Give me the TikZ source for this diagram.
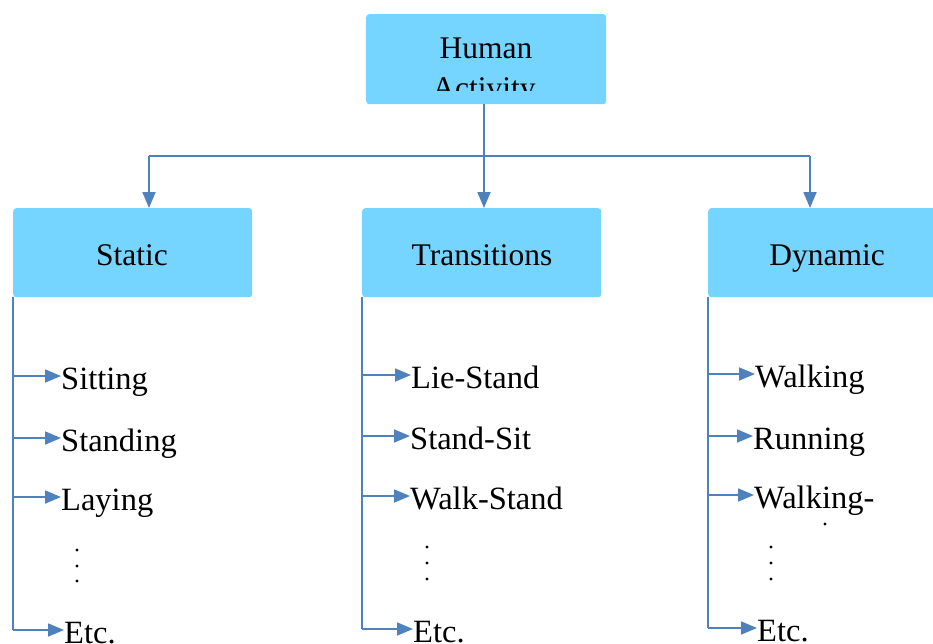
\documentclass[tikz,border=0pt]{standalone}
\usepackage{fontspec}
\setmainfont{Liberation Serif}
\usetikzlibrary{arrows.meta}
\definecolor{boxblue}{RGB}{118,213,255}
\definecolor{lineblue}{RGB}{79,129,189}
\begin{document}
\begin{tikzpicture}[x=1pt,y=-1pt,
  box/.style={fill=boxblue, rounded corners=3pt, draw=none, inner sep=0pt, anchor=north west},
  lbl/.style={font=\fontsize{31.5}{38}\selectfont, inner sep=0pt},
  item/.style={font=\fontsize{32.5}{38}\selectfont, inner sep=0pt, anchor=west, text height=26pt, text depth=0pt},
  conn/.style={draw=lineblue, line width=1.8pt},
  arr/.style={conn, -{Triangle[length=16pt,width=13pt]}},
  vdot/.style={fill=black, circle, inner sep=0pt, minimum size=3.4pt},
]
\useasboundingbox (0,0) rectangle (933,643);
\clip (0,0) rectangle (933,643);
% boxes
\node[box, minimum width=240pt, minimum height=90pt] (human) at (366,14) {};
\node[box, minimum width=239pt, minimum height=89pt] (stat) at (13,208) {};
\node[box, minimum width=239pt, minimum height=89pt] (trans) at (362,208) {};
\node[box, minimum width=240pt, minimum height=89pt] (dyn) at (708,208) {};
% box labels
\begin{scope}
\clip (366,14) rectangle (606,90);
\node[lbl, anchor=base] (h1) at (486,58) {Human};
\node[lbl, anchor=base] (h2) at (484,98) {Activity};
\end{scope}
\node[lbl, anchor=base] (statl) at (132,265) {Static};
\node[lbl, anchor=base] (transl) at (482,265) {Transitions};
\node[lbl, anchor=base] (dynl) at (827,265) {Dynamic};
% top connectors
\coordinate (j) at (484,156);
\coordinate (ls) at (149,156);
\coordinate (rs) at (810,156);
\draw[conn] (j |- human.south) -- (j);
\draw[conn] (ls) -- (rs);
\draw[arr] (ls) -- (ls |- stat.north);
\draw[arr] (j) -- (j |- trans.north);
\draw[arr] (rs) -- (rs |- dyn.north);
% static list
\node[item] (s1) at (61,376) {Sitting};
\node[item] (s2) at (61,438) {Standing};
\node[item] (s3) at (61,497) {Laying};
\node[item] (s4) at (64,630) {Etc.};
\draw[conn] (stat.south west) -- (13,630);
\foreach \n in {s1,s2,s3,s4} \draw[arr] (stat.south west |- \n.west) -- (\n.west);
\node[vdot] (sd1) at (77,550) {};
\node[vdot] (sd2) at (77,566) {};
\node[vdot] (sd3) at (77,581) {};
% transitions list
\node[item] (t1) at (411,375) {Lie-Stand};
\node[item] (t2) at (410,436) {Stand-Sit};
\node[item] (t3) at (410,496) {Walk-Stand};
\node[item] (t4) at (413,629) {Etc.};
\draw[conn] (trans.south west) -- (362,629);
\foreach \n in {t1,t2,t3,t4} \draw[arr] (trans.south west |- \n.west) -- (\n.west);
\node[vdot] (td1) at (427,547) {};
\node[vdot] (td2) at (427,563) {};
\node[vdot] (td3) at (427,579) {};
% dynamic list
\node[item] (d1) at (755,374) {Walking};
\node[item] (d2) at (753,436) {Running};
\node[item] (d3) at (754,495) {Walking-};
\node[item] (d4) at (757,628) {Etc.};
\draw[conn] (dyn.south west) -- (708,628);
\foreach \n in {d1,d2,d3,d4} \draw[arr] (dyn.south west |- \n.west) -- (\n.west);
\node[vdot] (dd0) at (825,524) {};
\node[vdot] (dd1) at (771,547) {};
\node[vdot] (dd2) at (771,563) {};
\node[vdot] (dd3) at (771,579) {};
\end{tikzpicture}
\end{document}
